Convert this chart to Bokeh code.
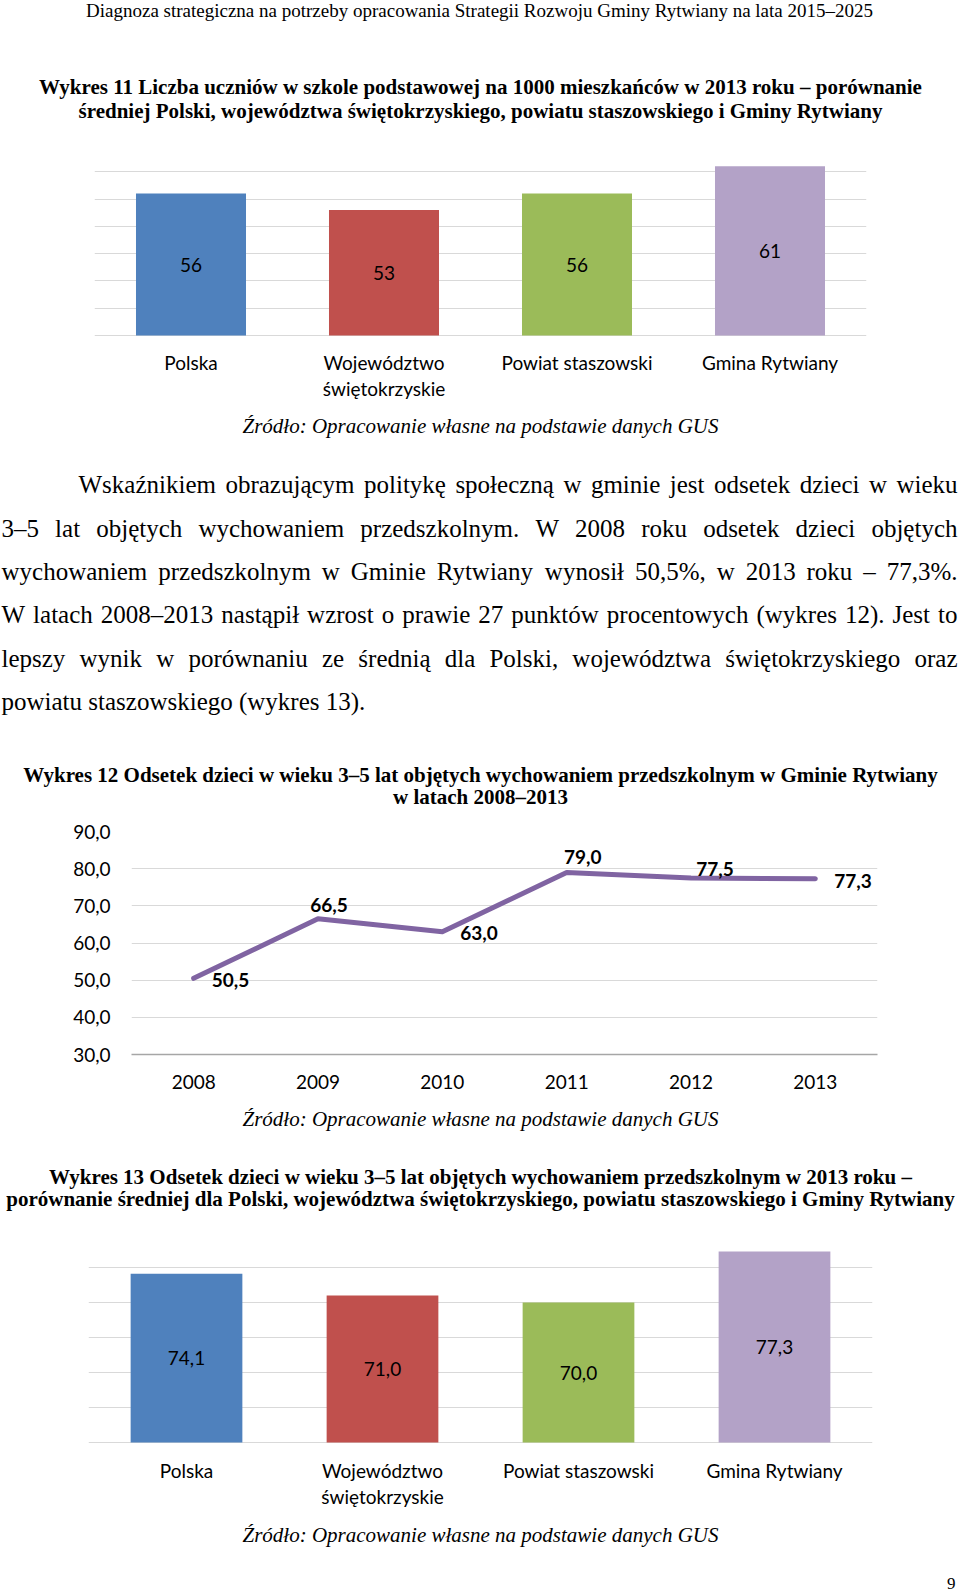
from bokeh.plotting import figure
from bokeh.models import FactorRange, Range1d, FixedTicker, ColumnDataSource
from bokeh.layouts import column
from bokeh.core.properties import value
from bokeh.embed import file_html
from bokeh.resources import INLINE

# ---------------- data ----------------
regions = ["Polska", "Województwo świętokrzyskie", "Powiat staszowski", "Gmina Rytwiany"]
region_line1 = ["Polska", "Województwo", "Powiat staszowski", "Gmina Rytwiany"]
region_line2 = ["", "świętokrzyskie", "", ""]
pupils_per_1000 = [56, 53, 56, 61]

years = ["2008", "2009", "2010", "2011", "2012", "2013"]
preschool_rytwiany = [50.5, 66.5, 63.0, 79.0, 77.5, 77.3]
y2_ticks = [30, 40, 50, 60, 70, 80, 90]
y2_tick_labels = ["30,0", "40,0", "50,0", "60,0", "70,0", "80,0", "90,0"]

preschool_2013 = [74.1, 71.0, 70.0, 77.3]

header = "Diagnoza strategiczna na potrzeby opracowania Strategii Rozwoju Gminy Rytwiany na lata 2015–2025"
title1 = ["Wykres 11 Liczba uczniów w szkole podstawowej na 1000 mieszkańców w 2013 roku – porównanie",
          "średniej Polski, województwa świętokrzyskiego, powiatu staszowskiego i Gminy Rytwiany"]
title2 = ["Wykres 12 Odsetek dzieci w wieku 3–5 lat objętych wychowaniem przedszkolnym w Gminie Rytwiany",
          "w latach 2008–2013"]
title3 = ["Wykres 13 Odsetek dzieci w wieku 3–5 lat objętych wychowaniem przedszkolnym w 2013 roku –",
          "porównanie średniej dla Polski, województwa świętokrzyskiego, powiatu staszowskiego i Gminy Rytwiany"]
source_note = "Źródło: Opracowanie własne na podstawie danych GUS"
paragraph = [
    "Wskaźnikiem obrazującym politykę społeczną w gminie jest odsetek dzieci w wieku",
    "3–5 lat objętych wychowaniem przedszkolnym. W 2008 roku odsetek dzieci objętych",
    "wychowaniem przedszkolnym w Gminie Rytwiany wynosił 50,5%, w 2013 roku – 77,3%.",
    "W latach 2008–2013 nastąpił wzrost o prawie 27 punktów procentowych (wykres 12). Jest to",
    "lepszy wynik w porównaniu ze średnią dla Polski, województwa świętokrzyskiego oraz",
    "powiatu staszowskiego (wykres 13).",
]
page_number = "9"

# ---------------- style ----------------
SERIF = "Liberation Serif"
SANS = "Lato"
BAR_COLORS = ["#4F81BD", "#C0504D", "#9BBB59", "#B3A2C7"]
LINE_COLOR = "#8064A2"
GRID = "#D9D9D9"
W = 960

# Times metrics (per 1000 em) for justification of the body text
TIMES = {' ': 250, ',': 250, '.': 250, ':': 278, '%': 833, '(': 333, ')': 333, '–': 500, '-': 333,
         'a': 444, 'b': 500, 'c': 444, 'd': 500, 'e': 444, 'f': 333, 'g': 500, 'h': 500, 'i': 278,
         'j': 278, 'k': 500, 'l': 278, 'm': 778, 'n': 500, 'o': 500, 'p': 500, 'q': 500, 'r': 333,
         's': 389, 't': 278, 'u': 500, 'v': 500, 'w': 722, 'x': 500, 'y': 500, 'z': 444,
         'G': 722, 'J': 389, 'P': 556, 'R': 667, 'S': 556, 'W': 944, 'D': 722, 'Z': 611}
ACC = {'ą': 'a', 'ę': 'e', 'ć': 'c', 'ł': 'l', 'ń': 'n', 'ó': 'o', 'ś': 's', 'ź': 'z', 'ż': 'z', 'Ź': 'Z'}


def word_width(wd, size):
    tot = 0
    for ch in wd:
        ch = ACC.get(ch, ch)
        if ch.isdigit():
            tot += 500
        else:
            tot += TIMES.get(ch, 722 if ch.isupper() else 500)
    return tot * size / 1000.0


def text_fig(y0, h):
    p = figure(width=W, height=h, x_range=Range1d(0, W), y_range=Range1d(y0 + h, y0),
               x_axis_type=None, y_axis_type=None, output_backend="svg",
               toolbar_location=None, min_border=0, outline_line_color=None, frame_align=False)
    p.grid.visible = False
    return p


def put(p, x, y, s, font=SERIF, size=21, style="normal", align="center", color="black"):
    p.text(x=[x], y=[y], text=[s], text_font=value(font), text_font_size=value(f"{size}px"),
           text_font_style=style, text_align=align, text_baseline="middle", text_color=color)


def style_axis(ax, standoff):
    ax.axis_line_color = None
    ax.major_tick_line_color = None
    ax.minor_tick_line_color = None
    ax.major_tick_out = 0
    ax.major_tick_in = 0
    ax.minor_tick_out = 0
    ax.major_label_standoff = standoff
    ax.major_label_text_font = SANS
    ax.major_label_text_font_size = "19px"
    ax.major_label_text_color = "black"


def bar_chart(values, labels, y_min, y_max, top, grid_px, below_px, left, right, lab1_off, lab2_off):
    # the frame reaches below the value axis so that the category labels fit inside it
    y_start = y_min - below_px * (y_max - y_min) / grid_px
    p = figure(width=W, height=top + grid_px + below_px, x_range=FactorRange(*regions),
               y_range=Range1d(y_start, y_max),
               output_backend="svg", toolbar_location=None, frame_align=False,
               min_border_left=left, min_border_right=right, min_border_top=top,
               min_border_bottom=0)
    p.outline_line_color = None
    p.xaxis.visible = False
    p.yaxis.visible = False
    p.xgrid.visible = False
    p.ygrid.ticker = FixedTicker(ticks=list(range(y_min, y_max + 1, 5)))
    p.ygrid.grid_line_color = GRID
    p.ygrid.grid_line_width = 1
    src = ColumnDataSource(dict(cat=regions, val=values, color=BAR_COLORS,
                                mid=[(y_min + v) / 2 for v in values], lab=labels))
    p.vbar(x="cat", top="val", bottom=y_min, width=0.57, fill_color="color", line_color=None, source=src)
    p.text(x="cat", y="mid", text="lab", source=src, text_font=value(SANS),
           text_font_size=value("19px"), text_align="center", text_baseline="middle",
           text_color="black")
    for texts, off in ((region_line1, lab1_off), (region_line2, lab2_off)):
        keep = [i for i, t in enumerate(texts) if t]
        ls = ColumnDataSource(dict(cat=[regions[i] for i in keep], base=[y_min] * len(keep),
                                   t=[texts[i] for i in keep]))
        p.text(x="cat", y="base", text="t", source=ls, y_offset=off,
               text_font=value(SANS), text_font_size=value("19px"),
               text_align="center", text_baseline="middle", text_color="black")
    return p


# ---------------- block 1: header + title 1 ----------------
t1 = text_fig(0, 137)
put(t1, 479, 10, header, size=19)
put(t1, 480, 86.7, title1[0], style="bold")
put(t1, 480, 110, title1[1], style="bold")

# ---------------- chart 1 ----------------
c1 = bar_chart(pupils_per_1000, [str(v) for v in pupils_per_1000], 30, 65,
               7, 191, 70, 94, 94, 27, 53)

# ---------------- block 3: source, paragraph, title 2 ----------------
t3 = text_fig(405, 405)
put(t3, 480, 425, source_note, style="italic")
PSIZE = 25
left, right, indent = 1, 957, 77
y_first, step = 484.3, 43.35
for i, line in enumerate(paragraph):
    words = line.split(" ")
    x0 = left + (indent if i == 0 else 0)
    widths = [word_width(wd, PSIZE) for wd in words]
    if i == len(paragraph) - 1:
        gap = word_width(" ", PSIZE)
    else:
        gap = (right - x0 - sum(widths)) / (len(words) - 1)
    xs, x = [], x0
    for wdt in widths:
        xs.append(x)
        x += wdt + gap
    t3.text(x=xs, y=[y_first + i * step] * len(words), text=words, text_font=value(SERIF),
            text_font_size=value(f"{PSIZE}px"), text_align="left", text_baseline="middle",
            text_color="black")
put(t3, 480, 774.3, title2[0], style="bold")
put(t3, 480, 796.7, title2[1], style="bold")

# ---------------- chart 2 ----------------
c2 = figure(width=W, height=290, x_range=FactorRange(*years), y_range=Range1d(y2_ticks[0], y2_ticks[-1]),
            output_backend="svg", toolbar_location=None, frame_align=False,
            min_border_left=131, min_border_right=83, min_border_top=21, min_border_bottom=46)
c2.outline_line_color = None
c2.xgrid.visible = False
c2.ygrid.ticker = FixedTicker(ticks=y2_ticks)
c2.ygrid.grid_line_color = GRID
ya = c2.yaxis[0]
ya.ticker = FixedTicker(ticks=y2_ticks)
ya.major_label_overrides = {t: l for t, l in zip(y2_ticks, y2_tick_labels)}
style_axis(ya, 21)
xa = c2.xaxis[0]
style_axis(xa, 20)
xa.axis_line_color = "#A6A6A6"
xa.axis_line_width = 1.5
c2.line(x=years, y=preschool_rytwiany, line_color=LINE_COLOR, line_width=5, line_join="round", line_cap="round")

label_place = ["right", "above", "right", "above", "above", "right"]
label_dx = [18, 11, 18, 16, 24, 19]
label_dy = [2, -14, 1, -15, -9, 2]
for place, align in (("right", "left"), ("above", "center")):
    idx = [i for i, pl in enumerate(label_place) if pl == place]
    src = ColumnDataSource(dict(x=[years[i] for i in idx], y=[preschool_rytwiany[i] for i in idx],
                                lab=[f"{preschool_rytwiany[i]:.1f}".replace(".", ",") for i in idx],
                                dx=[label_dx[i] for i in idx], dy=[label_dy[i] for i in idx]))
    c2.text(x="x", y="y", text="lab", x_offset="dx", y_offset="dy", source=src,
            text_font=value(SANS), text_font_size=value("19px"), text_font_style="bold",
            text_align=align, text_baseline="middle", text_color="black")

# ---------------- block 5: source + title 3 ----------------
t5 = text_fig(1100, 125)
put(t5, 480, 1118, source_note, style="italic")
put(t5, 480, 1176.5, title3[0], style="bold")
put(t5, 480, 1198, title3[1], style="bold")

# ---------------- chart 3 ----------------
c3 = bar_chart(preschool_2013, [f"{v:.1f}".replace(".", ",") for v in preschool_2013], 50, 80,
               7, 210, 68, 88, 88, 28, 54)

# ---------------- block 7: source + page number ----------------
t7 = text_fig(1510, 82)
put(t7, 480, 1534, source_note, style="italic")
put(t7, 955, 1583, page_number, size=17, align="right")

page = column(t1, c1, t3, c2, t5, c3, t7, spacing=0)
open("out.html", "w").write(file_html(page, INLINE))
